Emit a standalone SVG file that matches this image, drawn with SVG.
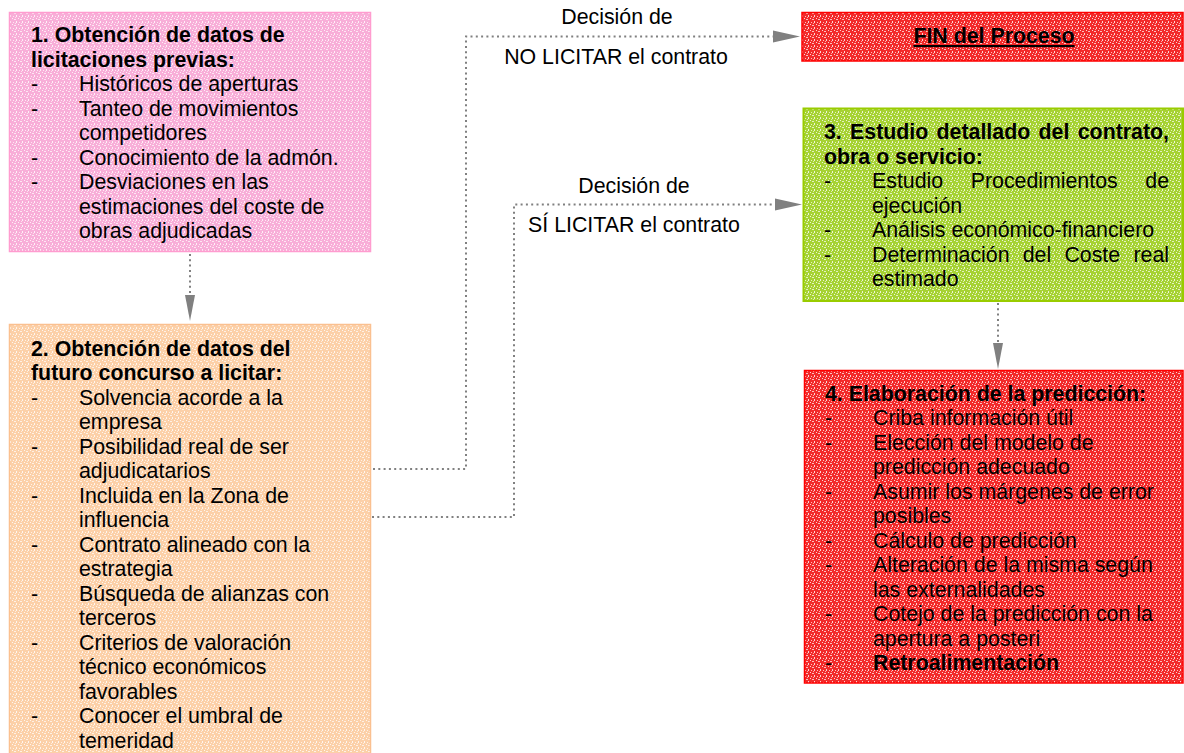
<svg xmlns="http://www.w3.org/2000/svg" width="1184" height="753" viewBox="0 0 1184 753">
<style>
text{font-family:"Liberation Sans",Arial,sans-serif;font-size:21.33px;fill:#000}
.b{font-weight:bold}
.lbl{text-anchor:middle}
.conn{fill:none;stroke:#808080;stroke-width:2;stroke-dasharray:2 3.3}
.head{fill:#808080}
</style>
<defs>
<pattern id="pPink" width="6" height="6" patternUnits="userSpaceOnUse">
<rect width="6" height="6" fill="#f8aed8"/>
<rect x="0" y="0" width="1" height="1" fill="#fff" opacity="0.8"/>
<rect x="2" y="1" width="2" height="1" fill="#fff" opacity="0.7"/>
<rect x="4" y="3" width="1" height="2" fill="#fff" opacity="0.8"/>
<rect x="1" y="4" width="1" height="1" fill="#fff" opacity="0.7"/>
<rect x="3" y="5" width="1" height="1" fill="#fff" opacity="0.6"/>
</pattern>
<pattern id="pPeach" width="6" height="6" patternUnits="userSpaceOnUse">
<rect width="6" height="6" fill="#fcd0a8"/>
<rect x="0" y="0" width="1" height="1" fill="#fff" opacity="0.8"/>
<rect x="2" y="1" width="2" height="1" fill="#fff" opacity="0.7"/>
<rect x="4" y="3" width="1" height="2" fill="#fff" opacity="0.8"/>
<rect x="1" y="4" width="1" height="1" fill="#fff" opacity="0.7"/>
<rect x="3" y="5" width="1" height="1" fill="#fff" opacity="0.6"/>
</pattern>
<pattern id="pGreen" width="6" height="6" patternUnits="userSpaceOnUse">
<rect width="6" height="6" fill="#a6d233"/>
<rect x="0" y="0" width="1" height="1" fill="#fff" opacity="0.8"/>
<rect x="2" y="1" width="2" height="1" fill="#fff" opacity="0.7"/>
<rect x="4" y="3" width="1" height="2" fill="#fff" opacity="0.8"/>
<rect x="1" y="4" width="1" height="1" fill="#fff" opacity="0.7"/>
<rect x="3" y="5" width="1" height="1" fill="#fff" opacity="0.6"/>
</pattern>
<pattern id="pRed" width="6" height="6" patternUnits="userSpaceOnUse">
<rect width="6" height="6" fill="#f22a2a"/>
<rect x="0" y="0" width="1" height="1" fill="#fff" opacity="0.8"/>
<rect x="2" y="1" width="2" height="1" fill="#fff" opacity="0.7"/>
<rect x="4" y="3" width="1" height="2" fill="#fff" opacity="0.8"/>
<rect x="1" y="4" width="1" height="1" fill="#fff" opacity="0.7"/>
<rect x="3" y="5" width="1" height="1" fill="#fff" opacity="0.6"/>
</pattern>
</defs>
<rect width="1184" height="753" fill="#fff"/>

<g id="connectors">
<line class="conn" x1="190" y1="254" x2="190" y2="295"/>
<polygon class="head" points="185,295 195,295 190,321"/>
<line class="conn" x1="998" y1="303" x2="998" y2="343"/>
<polygon class="head" points="993,343 1003,343 998,369"/>
<polyline class="conn" points="373,469 466,469 466,36.5 773,36.5"/>
<polygon class="head" points="773,30.5 773,42.5 800,36.5"/>
<polyline class="conn" points="372,517 514,517 514,204.5 775,204.5"/>
<polygon class="head" points="775,198.5 775,210.5 802,204.5"/>
<text class="lbl" x="617" y="24">Decisión de</text>
<text class="lbl" x="616" y="64">NO LICITAR el contrato</text>
<text class="lbl" x="634" y="193">Decisión de</text>
<text class="lbl" x="634" y="232">SÍ LICITAR el contrato</text>
</g>

<g id="node1">
<rect x="9.5" y="12.5" width="361" height="239" fill="url(#pPink)" stroke="#ff9ccf" stroke-width="1.5"/>
<text class="b" x="31" y="42">1. Obtención de datos de</text>
<text class="b" x="31" y="66.5">licitaciones previas:</text>
<text x="31" y="91">-</text><text x="79" y="91">Históricos de aperturas</text>
<text x="31" y="115.5">-</text><text x="79" y="115.5">Tanteo de movimientos</text>
<text x="79" y="140">competidores</text>
<text x="31" y="164.5">-</text><text x="79" y="164.5">Conocimiento de la admón.</text>
<text x="31" y="189">-</text><text x="79" y="189">Desviaciones en las</text>
<text x="79" y="213.5">estimaciones del coste de</text>
<text x="79" y="238">obras adjudicadas</text>
</g>

<g id="node2">
<rect x="9.5" y="324.5" width="361" height="440" fill="url(#pPeach)" stroke="#fac090" stroke-width="1.5"/>
<text class="b" x="31" y="355.5">2. Obtención de datos del</text>
<text class="b" x="31" y="380">futuro concurso a licitar:</text>
<text x="31" y="404.5">-</text><text x="79" y="404.5">Solvencia acorde a la</text>
<text x="79" y="429">empresa</text>
<text x="31" y="453.5">-</text><text x="79" y="453.5">Posibilidad real de ser</text>
<text x="79" y="478">adjudicatarios</text>
<text x="31" y="502.5">-</text><text x="79" y="502.5">Incluida en la Zona de</text>
<text x="79" y="527">influencia</text>
<text x="31" y="551.5">-</text><text x="79" y="551.5">Contrato alineado con la</text>
<text x="79" y="576">estrategia</text>
<text x="31" y="600.5">-</text><text x="79" y="600.5">Búsqueda de alianzas con</text>
<text x="79" y="625">terceros</text>
<text x="31" y="649.5">-</text><text x="79" y="649.5">Criterios de valoración</text>
<text x="79" y="674">técnico económicos</text>
<text x="79" y="698.5">favorables</text>
<text x="31" y="723">-</text><text x="79" y="723">Conocer el umbral de</text>
<text x="79" y="747.5">temeridad</text>
</g>

<g id="nodeFin">
<rect x="802" y="12.5" width="381" height="48.5" fill="url(#pRed)" stroke="#ff0000" stroke-width="1.5"/>
<text class="b lbl" x="994" y="43" text-decoration="underline">FIN del Proceso</text>
</g>

<g id="node3">
<rect x="803.5" y="108.5" width="379.5" height="192.5" fill="url(#pGreen)" stroke="#99cc00" stroke-width="2"/>
<text class="b" y="139"><tspan x="824">3.</tspan><tspan x="850.1">Estudio</tspan><tspan x="936.6">detallado</tspan><tspan x="1038.5">del</tspan><tspan x="1169" text-anchor="end">contrato,</tspan></text>
<text class="b" x="824" y="163.5">obra o servicio:</text>
<text x="824" y="188">-</text>
<text y="188"><tspan x="872">Estudio</tspan><tspan x="970.7">Procedimientos</tspan><tspan x="1169" text-anchor="end">de</tspan></text>
<text x="872" y="212.5">ejecución</text>
<text x="824" y="237">-</text><text x="872" y="237">Análisis económico-financiero</text>
<text x="824" y="261.5">-</text>
<text y="261.5"><tspan x="872">Determinación</tspan><tspan x="1022.7">del</tspan><tspan x="1064.4">Coste</tspan><tspan x="1169" text-anchor="end">real</tspan></text>
<text x="872" y="286">estimado</text>
</g>

<g id="node4">
<rect x="804.5" y="370.5" width="378.5" height="312.5" fill="url(#pRed)" stroke="#ff0000" stroke-width="1.5"/>
<text class="b" x="825" y="400.5">4. Elaboración de la predicción:</text>
<text x="825" y="425">-</text><text x="873" y="425">Criba información útil</text>
<text x="825" y="449.5">-</text><text x="873" y="449.5">Elección del modelo de</text>
<text x="873" y="474">predicción adecuado</text>
<text x="825" y="498.5">-</text><text x="873" y="498.5">Asumir los márgenes de error</text>
<text x="873" y="523">posibles</text>
<text x="825" y="547.5">-</text><text x="873" y="547.5">Cálculo de predicción</text>
<text x="825" y="572">-</text><text x="873" y="572">Alteración de la misma según</text>
<text x="873" y="596.5">las externalidades</text>
<text x="825" y="621">-</text><text x="873" y="621">Cotejo de la predicción con la</text>
<text x="873" y="645.5">apertura a posteri</text>
<text x="825" y="670">-</text><text class="b" x="873" y="670">Retroalimentación</text>
</g>
</svg>
